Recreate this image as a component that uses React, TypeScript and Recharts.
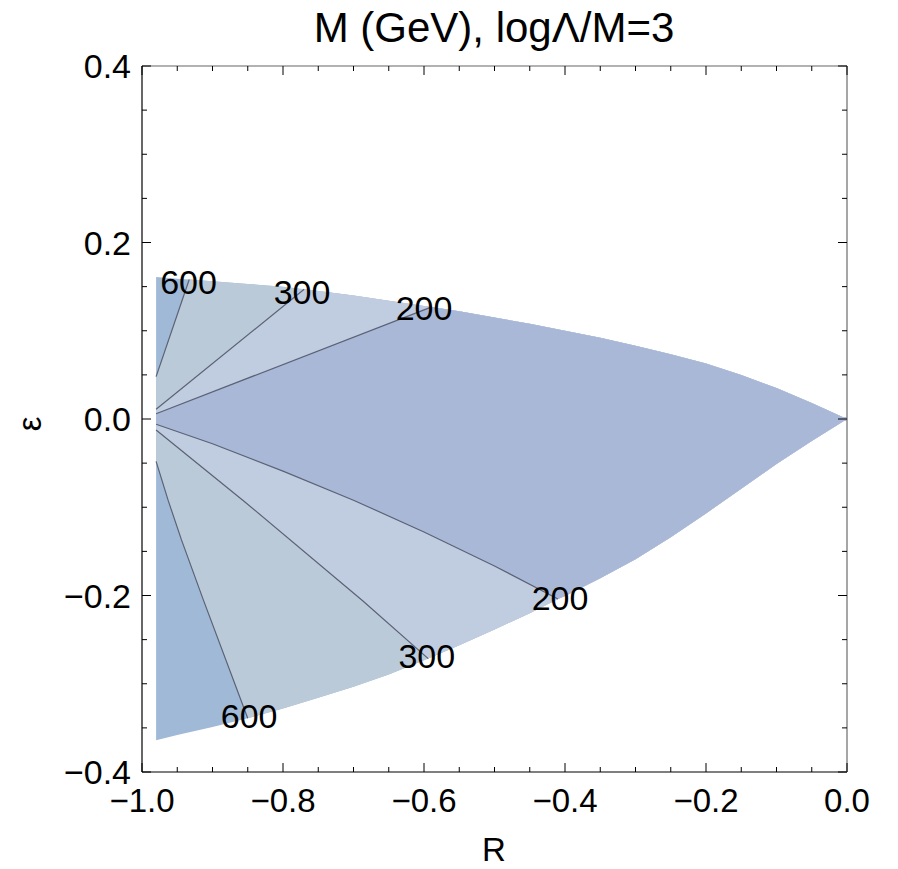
import React from 'react';
import { ComposedChart, Area, Line, Scatter, XAxis, YAxis } from 'recharts';

type Pt = { R: number; eps: number };
const p = (R: number, eps: number): Pt => ({ R, eps });

// outer boundary of the allowed region
const upperBoundary: Pt[] = [
  p(-0.98, 0.161), p(-0.95, 0.159), p(-0.933, 0.158), p(-0.9, 0.156), p(-0.85, 0.153),
  p(-0.8, 0.15), p(-0.77, 0.147), p(-0.75, 0.145), p(-0.7, 0.14), p(-0.65, 0.134),
  p(-0.6, 0.128), p(-0.589, 0.127), p(-0.55, 0.122), p(-0.5, 0.115), p(-0.45, 0.108),
  p(-0.4, 0.1), p(-0.35, 0.092), p(-0.3, 0.083), p(-0.25, 0.0735), p(-0.2, 0.063),
  p(-0.15, 0.05), p(-0.1, 0.035), p(-0.05, 0.018), p(-0.025, 0.009), p(0, 0),
];
const lowerBoundary: Pt[] = [
  p(-0.98, -0.364), p(-0.95, -0.358), p(-0.9, -0.349), p(-0.85, -0.339), p(-0.8, -0.328),
  p(-0.75, -0.316), p(-0.7, -0.3035), p(-0.65, -0.2895), p(-0.6, -0.2735), p(-0.594, -0.2715),
  p(-0.55, -0.2565), p(-0.5, -0.2385), p(-0.45, -0.22), p(-0.41, -0.204), p(-0.4, -0.2005),
  p(-0.35, -0.1805), p(-0.3, -0.159), p(-0.25, -0.134), p(-0.2, -0.107), p(-0.15, -0.079),
  p(-0.1, -0.051), p(-0.05, -0.025), p(-0.025, -0.0125), p(0, 0),
];

// contour lines M = 600, 300, 200 GeV
const contour600Upper: Pt[] = [p(-0.98, 0.048), p(-0.933, 0.158)];
const contour300Upper: Pt[] = [p(-0.98, 0.011), p(-0.77, 0.147)];
const contour200Upper: Pt[] = [p(-0.98, 0.006), p(-0.589, 0.127)];
const contour200Lower: Pt[] = [
  p(-0.98, -0.006), p(-0.9, -0.028), p(-0.8, -0.059), p(-0.7, -0.092), p(-0.6, -0.128),
  p(-0.5, -0.1665), p(-0.41, -0.204),
];
const contour300Lower: Pt[] = [p(-0.98, -0.0125), p(-0.854, -0.094), p(-0.687, -0.206), p(-0.594, -0.2715)];
const contour600Lower: Pt[] = [
  p(-0.98, -0.048), p(-0.963, -0.092), p(-0.944, -0.137), p(-0.913, -0.205), p(-0.85, -0.339),
];

const contourLabels = [
  { R: -0.934, eps: 0.155, text: '600' },
  { R: -0.773, eps: 0.144, text: '300' },
  { R: -0.6, eps: 0.126, text: '200' },
  { R: -0.407, eps: -0.203, text: '200' },
  { R: -0.596, eps: -0.269, text: '300' },
  { R: -0.848, eps: -0.337, text: '600' },
];

const xTicks = [-1, -0.95, -0.9, -0.85, -0.8, -0.75, -0.7, -0.65, -0.6, -0.55, -0.5, -0.45, -0.4, -0.35, -0.3, -0.25, -0.2, -0.15, -0.1, -0.05, 0];
const yTicks = [-0.4, -0.35, -0.3, -0.25, -0.2, -0.15, -0.1, -0.05, 0, 0.05, 0.1, 0.15, 0.2, 0.25, 0.3, 0.35, 0.4];

const colors = {
  above600: '#a0b9d7',
  r300to600: '#bbcad9',
  r200to300: '#c0cce0',
  below200: '#aab8d8',
  contour: '#5b6275',
};

const FONT = '"Liberation Sans", Arial, Helvetica, sans-serif';

// region boundary: contour line followed by outer boundary beyond its end
const region = (line: Pt[], boundary: Pt[]): Pt[] => {
  const end = line[line.length - 1].R;
  return [...line, ...boundary.filter((q) => q.R > end + 1e-9)];
};

const isMajor = (v: number) => Math.abs(v * 5 - Math.round(v * 5)) < 1e-6;
const fmt = (v: number) => (Math.abs(v) < 1e-9 ? '0.0' : v.toFixed(1).replace('-', '\u2212'));

const BottomTick = (props: any) => {
  const { x, y, payload } = props;
  const major = isMajor(payload.value);
  return (
    <g>
      <line x1={x} x2={x} y1={y} y2={y - (major ? 9 : 5)} stroke="#000" strokeWidth={1} />
      {major && (
        <text x={x} y={y + 40} textAnchor="middle" fontSize={33} fontFamily={FONT} fill="#000">
          {fmt(payload.value)}
        </text>
      )}
    </g>
  );
};
const TopTick = (props: any) => {
  const { x, y, payload } = props;
  const major = isMajor(payload.value);
  return <line x1={x} x2={x} y1={y} y2={y + (major ? 9 : 5)} stroke="#000" strokeWidth={1} />;
};
const LeftTick = (props: any) => {
  const { x, y, payload } = props;
  const major = isMajor(payload.value);
  return (
    <g>
      <line x1={x} x2={x + (major ? 9 : 5)} y1={y} y2={y} stroke="#000" strokeWidth={1} />
      {major && (
        <text x={x - 11} y={y + 12} textAnchor="end" fontSize={34} fontFamily={FONT} fill="#000">
          {fmt(payload.value)}
        </text>
      )}
    </g>
  );
};
const RightTick = (props: any) => {
  const { x, y, payload } = props;
  const major = isMajor(payload.value);
  return <line x1={x} x2={x - (major ? 9 : 5)} y1={y} y2={y} stroke="#000" strokeWidth={1} />;
};

const LabelShape = (props: any) => {
  const { cx, cy, payload } = props;
  return (
    <text x={cx} y={cy + 12} textAnchor="middle" fontSize={34} fontFamily={FONT} fill="#000">
      {payload.text}
    </text>
  );
};

const W = 882;
const H = 853;

export default function App() {
  const upperFill = (data: Pt[], fill: string, key: string) => (
    <Area key={key} data={data} dataKey="eps" type="linear" baseValue={-0.002} fill={fill} fillOpacity={1} stroke="none" isAnimationActive={false} dot={false} activeDot={false} />
  );
  const lowerFill = (data: Pt[], fill: string, key: string) => (
    <Area key={key} data={data} dataKey="eps" type="linear" baseValue={0.002} fill={fill} fillOpacity={1} stroke="none" isAnimationActive={false} dot={false} activeDot={false} />
  );
  const contour = (data: Pt[], key: string) => (
    <Line key={key} data={data} dataKey="eps" type="linear" stroke={colors.contour} strokeWidth={1.2} dot={false} activeDot={false} isAnimationActive={false} />
  );
  return (
    <div style={{ position: 'relative', width: W, height: H }}>
      <ComposedChart width={W} height={H} margin={{ top: 48, right: 33, bottom: 29, left: 54 }}>
        <XAxis xAxisId={0} dataKey="R" type="number" domain={[-1, 0]} allowDataOverflow ticks={xTicks} interval={0}
          height={60} tickLine={false} tickSize={0} tickMargin={0} axisLine={{ stroke: '#000', strokeWidth: 1.2 }} tick={<BottomTick />} />
        <XAxis xAxisId="top" orientation="top" dataKey="R" type="number" domain={[-1, 0]} allowDataOverflow ticks={xTicks} interval={0}
          height={10} tickLine={false} tickSize={0} tickMargin={0} axisLine={{ stroke: '#666', strokeWidth: 1.2 }} tick={<TopTick />} />
        <YAxis yAxisId={0} dataKey="eps" type="number" domain={[-0.4, 0.4]} allowDataOverflow ticks={yTicks} interval={0}
          width={80} tickLine={false} tickSize={0} tickMargin={0} axisLine={{ stroke: '#000', strokeWidth: 1.2 }} tick={<LeftTick />} />
        <YAxis yAxisId="right" orientation="right" dataKey="eps" type="number" domain={[-0.4, 0.4]} allowDataOverflow ticks={yTicks} interval={0}
          width={10} tickLine={false} tickSize={0} tickMargin={0} axisLine={{ stroke: '#888', strokeWidth: 1.5 }} tick={<RightTick />} />

        {upperFill(upperBoundary, colors.above600, 'fu')}
        {lowerFill(lowerBoundary, colors.above600, 'fl')}
        {upperFill(region(contour600Upper, upperBoundary), colors.r300to600, 'u600')}
        {lowerFill(region(contour600Lower, lowerBoundary), colors.r300to600, 'l600')}
        {upperFill(region(contour300Upper, upperBoundary), colors.r200to300, 'u300')}
        {lowerFill(region(contour300Lower, lowerBoundary), colors.r200to300, 'l300')}
        {upperFill(region(contour200Upper, upperBoundary), colors.below200, 'u200')}
        {lowerFill(region(contour200Lower, lowerBoundary), colors.below200, 'l200')}

        {contour(contour600Upper, 'c600u')}
        {contour(contour300Upper, 'c300u')}
        {contour(contour200Upper, 'c200u')}
        {contour(contour200Lower, 'c200l')}
        {contour(contour300Lower, 'c300l')}
        {contour(contour600Lower, 'c600l')}

        <Scatter data={contourLabels} dataKey="eps" shape={<LabelShape />} isAnimationActive={false} />
      </ComposedChart>
      <svg width={W} height={H} style={{ position: 'absolute', left: 0, top: 0, pointerEvents: 'none', overflow: 'visible' }}>
        <text x={486} y={34} textAnchor="middle" fontSize={42} fontFamily={FONT} fill="#000">M (GeV), logΛ/M=3</text>
        <text x={486} y={853} textAnchor="middle" fontSize={33} fontFamily={FONT} fill="#000">R</text>
        <text x={21} y={416} textAnchor="middle" dominantBaseline="central" fontSize={33} fontFamily={FONT} fill="#000"
          transform="rotate(-90 21 416)">ε</text>
      </svg>
    </div>
  );
}
